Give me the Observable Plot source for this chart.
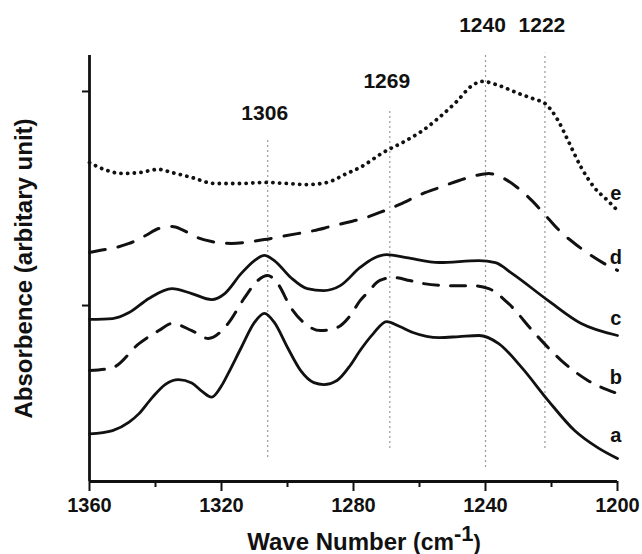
<!DOCTYPE html>
<html>
<head>
<meta charset="utf-8">
<script src="https://cdn.jsdelivr.net/npm/d3@7"></script>
<script src="https://cdn.jsdelivr.net/npm/@observablehq/plot@0.6"></script>
<style>
  html, body { margin: 0; padding: 0; background: #fff; }
  #chart { width: 642px; height: 554px; }
</style>
</head>
<body>
<div id="chart"></div>
<script>
// ---- Data ----
const majorTicks = [1360, 1320, 1280, 1240, 1200];
const minorTicks = [1340, 1300, 1260, 1220];
const yTicks = [1, 2];

const waveA = [1360,1353,1348,1345,1341,1337,1333,1329,1326,1323,1320,1318,1314,1310,1307,1304,1300,1296,1292,1289,1285,1281,1278,1274,1270,1266,1262,1254,1248,1242,1236,1229,1221,1213,1206,1200];
const absA  = [0.40,0.416,0.455,0.495,0.570,0.632,0.654,0.638,0.600,0.572,0.625,0.682,0.804,0.921,0.963,0.921,0.804,0.696,0.640,0.631,0.650,0.720,0.790,0.869,0.925,0.902,0.874,0.850,0.855,0.860,0.822,0.710,0.556,0.416,0.336,0.285];

const waveB = [1360,1353,1345,1339,1335,1329,1324,1318,1313,1309,1306,1303,1299,1294,1290,1285,1281,1278,1276,1272,1268,1263,1259,1251,1244,1239,1233,1225,1217,1209,1200];
const absB  = [0.696,0.710,0.822,0.883,0.916,0.883,0.846,0.916,1.037,1.117,1.140,1.103,0.991,0.907,0.883,0.897,0.953,1.023,1.056,1.117,1.131,1.117,1.103,1.093,1.093,1.079,1.009,0.869,0.743,0.650,0.589];

const waveC = [1360,1353,1348,1342,1335,1329,1323,1319,1314,1310,1307,1304,1299,1294,1289,1284,1278,1274,1270,1264,1254,1242,1237,1232,1221,1211,1200];
const absC  = [0.935,0.939,0.967,1.033,1.079,1.056,1.028,1.056,1.150,1.210,1.234,1.210,1.131,1.079,1.070,1.093,1.178,1.220,1.238,1.224,1.201,1.210,1.200,1.150,1.023,0.916,0.860];

const waveD = [1360,1357,1352,1348,1343,1339,1335,1332,1328,1323,1317,1311,1307,1302,1297,1292,1287,1282,1277,1272,1266,1259,1254,1248,1243,1239,1235,1230,1226,1221,1217,1213,1208,1204,1200];
const absD  = [1.248,1.257,1.271,1.290,1.327,1.360,1.369,1.355,1.322,1.299,1.290,1.299,1.308,1.322,1.336,1.350,1.369,1.388,1.407,1.435,1.472,1.523,1.551,1.584,1.607,1.617,1.598,1.547,1.491,1.407,1.341,1.290,1.234,1.196,1.164];

const waveE = [1360,1357,1350,1345,1339,1335,1329,1322,1314,1307,1300,1294,1288,1282,1278,1271,1264,1259,1254,1249,1244,1241,1236,1230,1225,1222,1218,1215,1211,1207,1203,1200];
const absE  = [1.668,1.645,1.617,1.621,1.636,1.621,1.598,1.570,1.570,1.575,1.570,1.565,1.575,1.617,1.645,1.715,1.771,1.818,1.879,1.949,2.028,2.047,2.028,1.991,1.963,1.944,1.864,1.771,1.645,1.551,1.491,1.444];

const curveNames   = ["a", "b", "c", "d", "e"];
const curveLabelY  = [0.393, 0.664, 0.939, 1.224, 1.525];

const peakWave     = [1306, 1269, 1240, 1222];
const peakLabels   = ["1306", "1269", "1240", "1222"];
const peakTop      = [1.780, 1.921, 2.182, 2.178];
const peakBottom   = [0.290, 0.332, 0.243, 0.332];
const peakLabelY   = [1.869, 2.014, 2.276, 2.276];

const xTitle = "Wave Number";
const yTitle = "Absorbence (arbitary unit)";

// ---- build tables ----
const seriesWaves = [waveA, waveB, waveC, waveD, waveE];
const seriesAbs = [absA, absB, absC, absD, absE];
const toRows = (i) => seriesWaves[i].map((w, j) => ({wn: w, abs: seriesAbs[i][j], s: curveNames[i]}));
const peaks = peakWave.map((w, i) => ({wn: w, top: peakTop[i], bottom: peakBottom[i], label: peakLabels[i], ly: peakLabelY[i]}));
const curveLabels = curveNames.map((n, i) => ({name: n, y: curveLabelY[i], x: 1200.5}));

const yMin = 0.178, yMax = 2.168;
const font = "'Liberation Sans', Arial, Helvetica, sans-serif";
const ink = "#111";

const solid = {x: "wn", y: "abs", stroke: ink, strokeWidth: 2.8, curve: "monotone-x"};

const chart = Plot.plot({
  width: 642,
  height: 554,
  marginLeft: 89,
  marginRight: 25,
  marginTop: 55,
  marginBottom: 73,
  style: {fontFamily: font, background: "#fff", color: ink, overflow: "visible"},
  x: {domain: [1360, 1200], label: null},
  y: {domain: [yMin, yMax], label: null},
  marks: [
    Plot.ruleX(peaks, {x: "wn", y1: "bottom", y2: "top", stroke: "#999", strokeWidth: 1.2, strokeDasharray: "2,3"}),
    Plot.text(peaks, {x: "wn", y: "ly", text: "label", fontSize: 21, fontWeight: "bold", fill: ink, lineAnchor: "bottom", dx: -3}),
    Plot.line(toRows(0), solid),
    Plot.line(toRows(1), {...solid, strokeWidth: 3, strokeDasharray: "15,12"}),
    Plot.line(toRows(2), solid),
    Plot.line(toRows(3), {...solid, strokeWidth: 3, strokeDasharray: "16,13"}),
    Plot.line(toRows(4), {...solid, strokeWidth: 3.8, strokeDasharray: "0.1,6.6", strokeLinecap: "round"}),
    Plot.text(curveLabels, {x: "x", y: "y", text: "name", fontSize: 20, fontWeight: "bold", fill: ink, textAnchor: "middle", lineAnchor: "middle"}),
    Plot.axisX({ticks: majorTicks, tickSize: 10, tickPadding: 6, tickFormat: d3.format("d"), strokeWidth: 2, fontSize: 20, fontWeight: "bold", fill: ink, stroke: ink, label: null}),
    Plot.axisX({ticks: minorTicks, tickSize: 6, tickFormat: () => "", strokeWidth: 2, stroke: ink, label: null}),
    Plot.axisY({ticks: yTicks, tickSize: 7, tickFormat: () => "", strokeWidth: 2, stroke: ink, label: null}),
    Plot.ruleY([yMin], {stroke: ink, strokeWidth: 2.8}),
    Plot.ruleX([1360], {stroke: ink, strokeWidth: 2.8}),
    Plot.text([yTitle], {frameAnchor: "left", dx: -65, rotate: -90, fontSize: 24, fontWeight: "bold", fill: ink, textAnchor: "middle", lineAnchor: "middle"})
  ]
});

// x-axis title with superscript (real text)
const svg = d3.select(chart);
const t = svg.append("text")
  .attr("x", 364).attr("y", 550)
  .attr("text-anchor", "middle")
  .attr("font-family", font)
  .attr("font-weight", "bold")
  .attr("fill", ink);
t.append("tspan").attr("font-size", 24).text(xTitle + " ");
t.append("tspan").attr("font-size", 23).text("(cm");
t.append("tspan").attr("font-size", 22).attr("dy", -9).text("-1");
t.append("tspan").attr("font-size", 22).attr("dy", 9).text(")");

document.getElementById("chart").appendChild(chart);
</script>
</body>
</html>
